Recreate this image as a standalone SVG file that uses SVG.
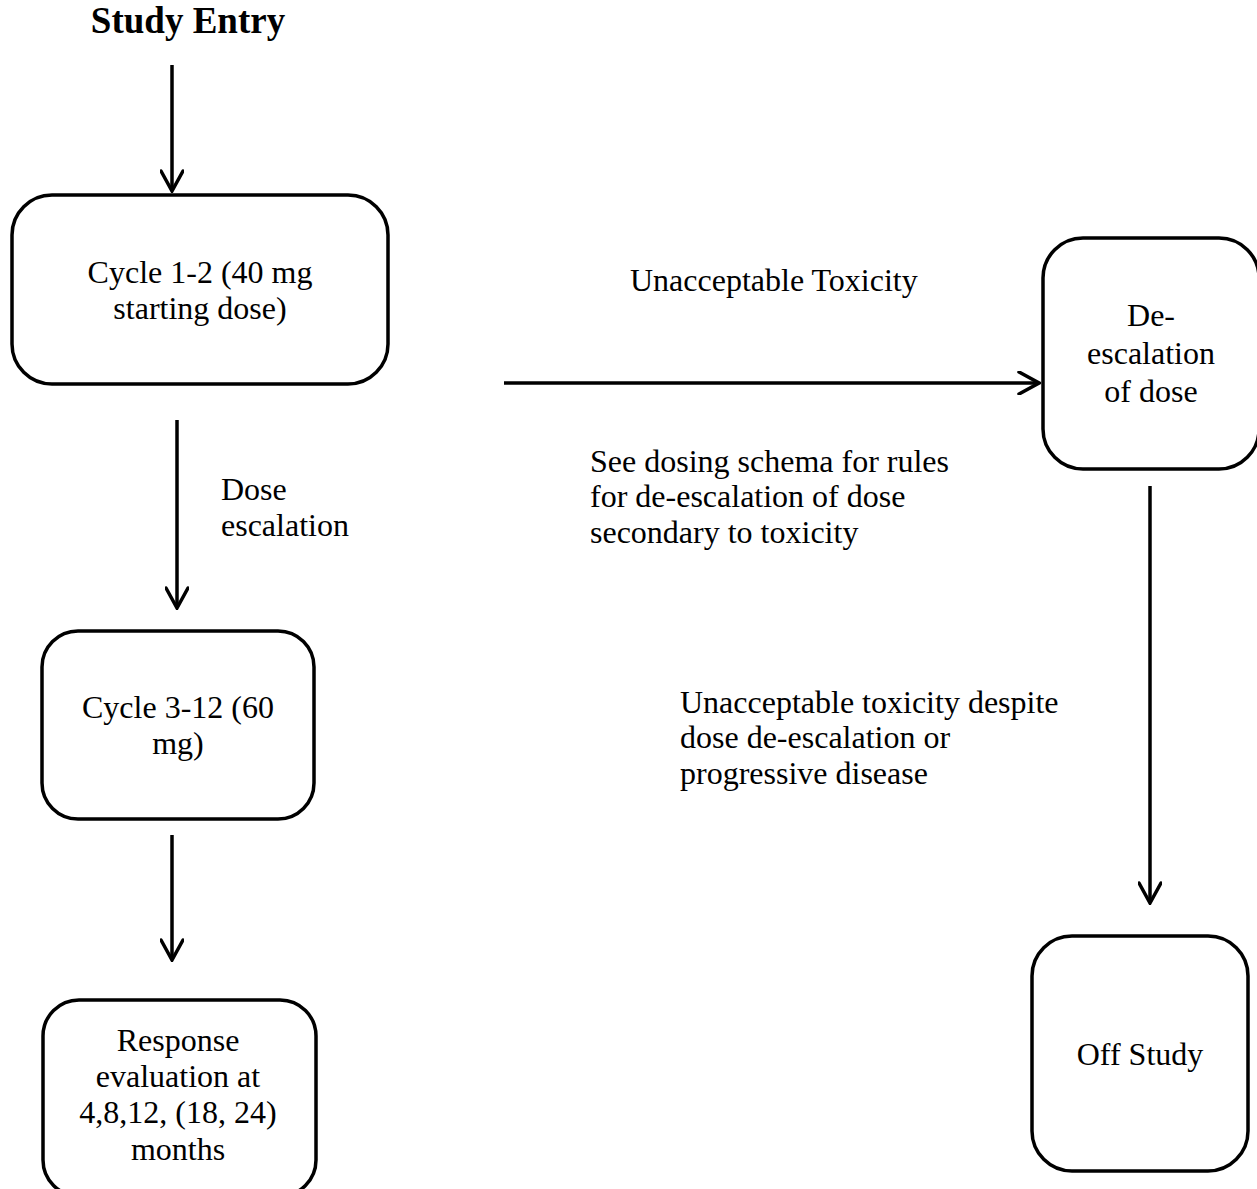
<svg xmlns="http://www.w3.org/2000/svg" width="1257" height="1189" viewBox="0 0 1257 1189">
  <style>
    .box { fill: #ffffff; stroke: #000000; stroke-width: 3.5; }
    .edge { fill: none; stroke: #000000; stroke-width: 3.5; }
    .head { fill: none; stroke: #000000; stroke-width: 3.5; stroke-linecap: round; stroke-linejoin: miter; }
    text { font-family: "Liberation Serif", "Times New Roman", serif; font-size: 32px; fill: #000000; }
    .c { text-anchor: middle; }
    .title { font-weight: bold; font-size: 37px; }
  </style>
  <defs>
    <marker id="arrow" markerUnits="userSpaceOnUse" viewBox="-22 -12 24 24" refX="0" refY="0" markerWidth="24" markerHeight="24" orient="auto">
      <path class="head" d="M-20,-11 L0,0 L-20,11"/>
    </marker>
  </defs>

  <!-- connectors -->
  <g id="connectors">
    <line class="edge" x1="172" y1="65" x2="172" y2="191" marker-end="url(#arrow)"/>
    <line class="edge" x1="177" y1="420" x2="177" y2="608" marker-end="url(#arrow)"/>
    <line class="edge" x1="172" y1="835" x2="172" y2="960" marker-end="url(#arrow)"/>
    <line class="edge" x1="504" y1="383" x2="1039" y2="383" marker-end="url(#arrow)"/>
    <line class="edge" x1="1150" y1="486" x2="1150" y2="903" marker-end="url(#arrow)"/>
  </g>

  <!-- free labels -->
  <g id="labels">
    <text class="title c" x="188" y="33">Study Entry</text>
    <text x="221" y="500">Dose</text>
    <text x="221" y="536">escalation</text>
    <text x="630" y="291">Unacceptable Toxicity</text>
    <text x="590" y="472">See dosing schema for rules</text>
    <text x="590" y="507">for de-escalation of dose</text>
    <text x="590" y="543">secondary to toxicity</text>
    <text x="680" y="713">Unacceptable toxicity despite</text>
    <text x="680" y="748">dose de-escalation or</text>
    <text x="680" y="784">progressive disease</text>
  </g>

  <!-- nodes -->
  <g id="cycle-1-2">
    <rect class="box" x="12" y="195" width="376" height="189" rx="40" ry="40"/>
    <text class="c" x="200" y="283">Cycle 1-2 (40 mg</text>
    <text class="c" x="200" y="319">starting dose)</text>
  </g>

  <g id="cycle-3-12">
    <rect class="box" x="42" y="631" width="272" height="188" rx="36" ry="36"/>
    <text class="c" x="178" y="718">Cycle 3-12 (60</text>
    <text class="c" x="178" y="754">mg)</text>
  </g>

  <g id="response-evaluation">
    <rect class="box" x="43" y="1000" width="273" height="196" rx="36" ry="36"/>
    <text class="c" x="178" y="1051">Response</text>
    <text class="c" x="178" y="1087">evaluation at</text>
    <text class="c" x="178" y="1123">4,8,12, (18, 24)</text>
    <text class="c" x="178" y="1160">months</text>
  </g>

  <g id="de-escalation">
    <rect class="box" x="1043" y="238" width="216" height="231" rx="40" ry="40"/>
    <text class="c" x="1151" y="326">De-</text>
    <text class="c" x="1151" y="364">escalation</text>
    <text class="c" x="1151" y="402">of dose</text>
  </g>

  <g id="off-study">
    <rect class="box" x="1032" y="936" width="216" height="235" rx="40" ry="40"/>
    <text class="c" x="1140" y="1065">Off Study</text>
  </g>
</svg>
